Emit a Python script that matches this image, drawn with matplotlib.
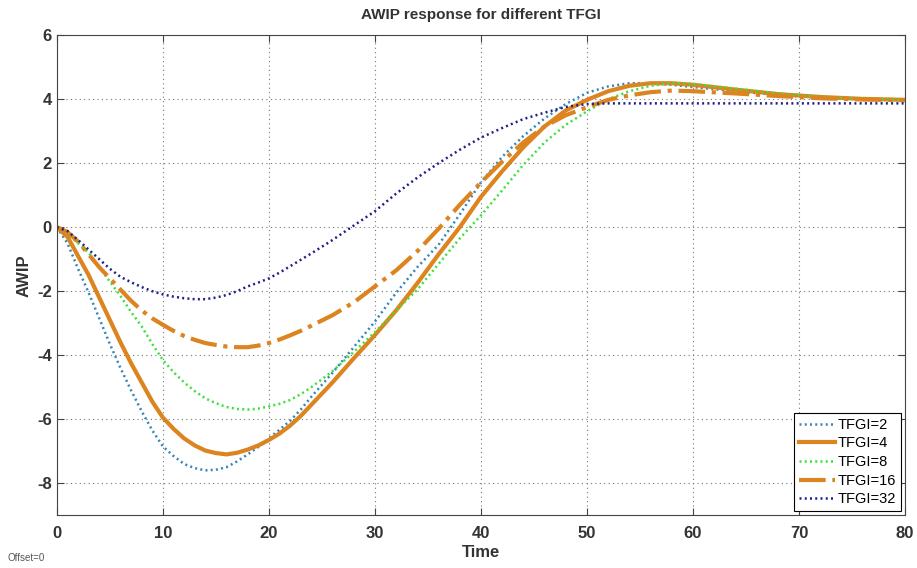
import numpy as np
import matplotlib
matplotlib.use('Agg')
import matplotlib.pyplot as plt

plt.rcParams['font.family'] = ['Liberation Sans', 'DejaVu Sans']
plt.rcParams['axes.unicode_minus'] = False

# time samples
t = [0, 1, 2, 3, 4, 5, 6, 7, 8, 9, 10, 11, 12, 13, 14, 15, 16, 17, 18, 19, 20,
     21, 22, 23, 24, 26, 28, 30, 32, 34, 36, 38, 40, 42, 44, 46, 48, 50, 52,
     54, 56, 58, 60, 64, 68, 72, 76, 80]

awip_2 = [0, -0.5, -1.3, -2.05, -2.85, -3.65, -4.4, -5.1, -5.75, -6.35, -6.85,
          -7.15, -7.4, -7.53, -7.6, -7.58, -7.5, -7.32, -7.1, -6.87, -6.6,
          -6.33, -6.05, -5.7, -5.3, -4.55, -3.75, -2.95,
          -2.05, -1.25, -0.55, 0.4, 1.4, 2.2, 2.85, 3.4, 3.85, 4.2,
          4.4, 4.5, 4.5, 4.45, 4.38, 4.25, 4.13, 4.05, 4.0, 3.98]
awip_4 = [0, -0.3, -0.9, -1.5, -2.2, -2.9, -3.6, -4.25, -4.85, -5.45, -5.95,
          -6.3, -6.6, -6.82, -6.98, -7.06, -7.1, -7.05, -6.95, -6.82, -6.65,
          -6.45, -6.2, -5.9, -5.55, -4.85, -4.1, -3.37,
          -2.6, -1.75, -0.85, 0.0, 0.95, 1.75, 2.5, 3.15, 3.65, 3.98,
          4.25, 4.42, 4.5, 4.5, 4.45, 4.3, 4.16, 4.07, 4.01, 3.98]
awip_8 = [0, -0.2, -0.5, -0.8, -1.25, -1.7, -2.15, -2.65, -3.1, -3.65, -4.15,
          -4.53, -4.85, -5.12, -5.35, -5.5, -5.62, -5.68, -5.7, -5.67, -5.6,
          -5.52, -5.4, -5.22, -5.0, -4.5, -3.9, -3.28,
          -2.6, -1.95, -1.15, -0.35, 0.37, 1.15, 1.95, 2.65, 3.2, 3.62,
          4.0, 4.25, 4.42, 4.5, 4.48, 4.33, 4.18, 4.07, 4.01, 3.98]
awip_16 = [0, -0.15, -0.45, -0.85, -1.25, -1.6, -1.95, -2.3, -2.6, -2.85, -3.05,
           -3.24, -3.4, -3.52, -3.62, -3.68, -3.73, -3.75, -3.75, -3.7, -3.62,
           -3.51, -3.38, -3.24, -3.08, -2.75, -2.35, -1.85,
           -1.35, -0.75, -0.05, 0.7, 1.4, 2.05, 2.65, 3.15, 3.5, 3.75,
           3.98, 4.12, 4.22, 4.27, 4.25, 4.18, 4.1, 4.03, 3.99, 3.97]
awip_32 = [0, -0.12, -0.4, -0.7, -1.0, -1.3, -1.55, -1.72, -1.87, -2.0, -2.1,
           -2.17, -2.22, -2.25, -2.25, -2.2, -2.12, -2.0, -1.85, -1.73, -1.6,
           -1.42, -1.22, -1.02, -0.82, -0.4, 0.05, 0.5,
           1.05, 1.55, 2.0, 2.42, 2.8, 3.1, 3.38, 3.58, 3.76, 3.85,
           3.87, 3.87, 3.87, 3.87, 3.87, 3.87, 3.87, 3.87, 3.87, 3.87]

fig = plt.figure(figsize=(9.17, 5.68), dpi=100)
ax = fig.add_axes([0.062, 0.093, 0.925, 0.845])

orange = '#dc8520'
dot = (0, (0.8, 1.3))
ax.plot(t, awip_2, linestyle=dot, color='#3585b8', lw=1.8, label='TFGI=2')
ax.plot(t, awip_4, '-', color=orange, lw=3, label='TFGI=4')
ax.plot(t, awip_8, linestyle=dot, color='#3de03d', lw=1.8, label='TFGI=8')
ax.plot(t, awip_16, '-.', color=orange, lw=3, label='TFGI=16')
ax.plot(t, awip_32, linestyle=dot, color='#20208a', lw=1.8, label='TFGI=32')

ax.set_xlim(0, 80)
ax.set_ylim(-9, 6)
ax.set_xticks(range(0, 81, 10))
ax.set_yticks(range(-8, 7, 2))
ax.grid(True, linestyle=(0, (1, 3)), color='#777777', lw=0.8)
ax.tick_params(direction='in', top=True, right=True, length=5, colors='#444444',
               labelsize=12, labelcolor='#333333')
ax.tick_params(axis='x', pad=8)
for lab in ax.get_xticklabels() + ax.get_yticklabels():
    lab.set_fontweight('bold')
for s in ax.spines.values():
    s.set_color('#444444')

ax.set_title('AWIP response for different TFGI', fontsize=11, fontweight='bold',
             color='#333333', pad=12)
ax.set_xlabel('Time', fontsize=12, fontweight='bold', color='#333333', labelpad=3)
ax.set_ylabel('AWIP', fontsize=12, fontweight='bold', color='#333333', labelpad=4)

leg = ax.legend(loc='lower right', fontsize=10.5, fancybox=False, framealpha=1,
                edgecolor='black', handlelength=2.5, handletextpad=0.2,
                labelspacing=0.32, borderaxespad=0.3, borderpad=0.3)
leg.get_frame().set_linewidth(0.8)

fig.text(0.008, 0.012, 'Offset=0', fontsize=7, color='#555555')

fig.savefig('out.png', dpi=100)
